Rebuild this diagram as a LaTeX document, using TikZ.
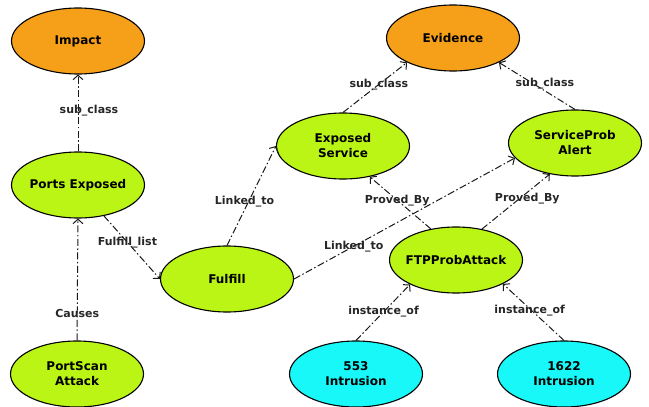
\documentclass[tikz,border=0pt]{standalone}
\usepackage{fontspec}
\setmainfont{DejaVu Sans}
\usetikzlibrary{shapes.geometric,arrows.meta}
\definecolor{classfill}{RGB}{246,160,26}
\definecolor{conceptfill}{RGB}{187,245,22}
\definecolor{eventfill}{RGB}{24,248,248}
\tikzset{
  concept/.style={ellipse,draw=black,line width=1.1pt,minimum width=133pt,minimum height=66pt,
    inner ysep=0pt,inner xsep=-18pt,align=center,font=\fontsize{12}{15}\selectfont\bfseries},
  cls/.style={concept,fill=classfill},
  mid/.style={concept,fill=conceptfill},
  evt/.style={concept,fill=eventfill},
  rel/.style={draw=black!90,line width=1pt,dash pattern=on 7pt off 2.5pt on 1.5pt off 2.5pt,
    -{Straight Barb[length=4.5pt,width=10pt,line width=1pt]}},
  lbl/.style={font=\fontsize{11}{13}\selectfont\bfseries,text=black!85,inner sep=0pt}
}
\begin{document}
\begin{tikzpicture}[x=1pt,y=-1pt]
  \useasboundingbox (0,0) rectangle (649,407);
  % class nodes
  \node[cls] (impact) at (78,41) {Impact};
  \node[cls] (evidence) at (453,38) {Evidence};
  % intermediate concepts
  \node[mid] (ports) at (78,185) {Ports Exposed};
  \node[mid] (service) at (343,146) {Exposed\\Service};
  \node[mid] (alert) at (575,143) {ServiceProb\\Alert};
  \node[mid] (fulfill) at (227,279) {Fulfill};
  \node[mid] (ftp) at (456,260) {FTPProbAttack};
  \node[mid] (portscan) at (77,374) {PortScan\\Attack};
  % observed events
  \node[evt] (i553) at (356,374) {553\\Intrusion};
  \node[evt] (i1622) at (564,374) {1622\\Intrusion};
  % relations
  \draw[rel] (ports.north) -- node[lbl,pos=0.53,xshift=11pt] (l1) {sub\_class} (impact.south);
  \draw[rel] (portscan.north) -- node[lbl,pos=0.22] (l2) {Causes} (ports.south);
  \draw[rel] (ports.-50) -- node[lbl,pos=0.42] (l3) {Fulfill\_list} (fulfill.west);
  \draw[rel] (fulfill.north) -- node[lbl,pos=0.44,xshift=-4pt] (l4) {Linked\_to} (service.west);
  \draw[rel] (fulfill.east) -- node[lbl,pos=0.27] (l5) {Linked\_to} (alert.194);
  \draw[rel] (service.north) -- node[lbl,pos=0.56] (l6) {sub\_class} (evidence.208);
  \draw[rel] (alert.north) -- node[lbl,pos=0.54,xshift=11pt] (l7) {sub\_class} (evidence.-28);
  \draw[rel] (ftp.129) -- node[lbl,pos=0.55] (l8) {Proved\_By} (service.-49);
  \draw[rel] (ftp.50) -- node[lbl,pos=0.55,xshift=8pt] (l9) {Proved\_By} (alert.-129);
  \draw[rel] (i553.north) -- node[lbl,pos=0.51] (l10) {instance\_of} (ftp.208);
  \draw[rel] (i1622.north) -- node[lbl,pos=0.53,xshift=-2pt] (l11) {instance\_of} (ftp.-27);
\end{tikzpicture}
\end{document}
